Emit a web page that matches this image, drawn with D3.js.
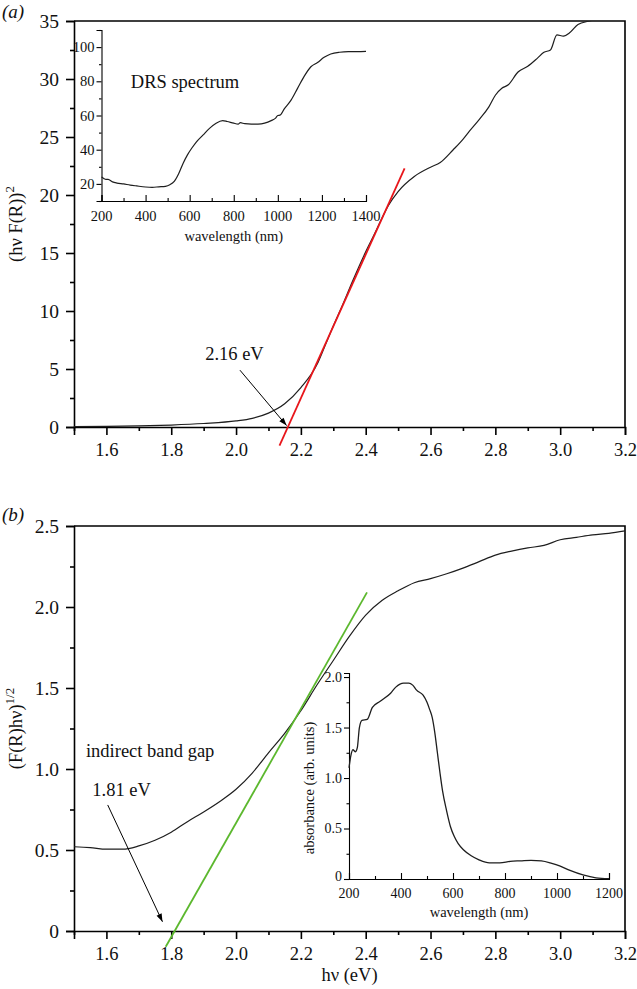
<!DOCTYPE html>
<html>
<head>
<meta charset="utf-8">
<script src="https://cdn.jsdelivr.net/npm/d3@7"></script>
<style>
  body { margin: 0; background: #fff; }
  svg, svg text { font-family: "Liberation Serif", "Times New Roman", "DejaVu Serif", serif; }
</style>
</head>
<body>
<div id="chart"></div>
<script>
// panel (a): (hv F(R))^2 vs photon energy
const hvA = [1.5, 1.6, 1.7, 1.8, 1.9, 2.0, 2.05, 2.1, 2.15, 2.2, 2.25, 2.27, 2.3, 2.33, 2.36, 2.4, 2.43, 2.45, 2.47, 2.5, 2.55, 2.6, 2.63, 2.67, 2.7, 2.72, 2.75, 2.78, 2.8, 2.82, 2.84, 2.87, 2.9, 2.93, 2.95, 2.97, 2.99, 3.01, 3.03, 3.055, 3.09, 3.12];
const fA = [0.03, 0.05, 0.09, 0.17, 0.3, 0.52, 0.75, 1.2, 2.0, 3.4, 5.4, 6.7, 8.7, 10.6, 12.6, 15.1, 16.8, 18.0, 19.1, 20.3, 21.6, 22.4, 22.8, 23.9, 24.8, 25.5, 26.5, 27.6, 28.6, 29.2, 29.5, 30.6, 31.1, 31.8, 32.3, 32.5, 33.8, 33.7, 34.0, 34.7, 35.0, 35.2];
const fitAx = [2.134, 2.52];
const fitAy = [-1.6, 22.3];

// inset (a): DRS spectrum
const wlA = [200, 210, 220, 230, 250, 270, 300, 330, 360, 400, 430, 460, 490, 510, 530, 550, 570, 590, 610, 630, 660, 690, 720, 750, 770, 800, 820, 830, 850, 880, 910, 940, 970, 990, 1000, 1010, 1030, 1060, 1090, 1120, 1150, 1180, 1210, 1240, 1280, 1320, 1360, 1400];
const drsA = [24, 23.2, 22.6, 22.7, 21.2, 20.5, 20.0, 19.3, 18.8, 18.2, 18.0, 18.3, 18.6, 19.5, 21.5, 26, 32, 37, 41, 44.5, 48.5, 52.5, 55.5, 57, 56.5, 55.5, 55, 55.8, 55.2, 55, 55, 55.5, 57, 58.5, 60, 60.2, 64, 69, 76, 83, 88.5, 91, 94, 96, 97, 97.3, 97.3, 97.5];

// panel (b): (F(R)hv)^1/2 vs photon energy
const hvB = [1.5, 1.55, 1.6, 1.65, 1.7, 1.75, 1.8, 1.85, 1.9, 1.95, 2.0, 2.05, 2.1, 2.15, 2.2, 2.25, 2.3, 2.35, 2.4, 2.45, 2.5, 2.55, 2.6, 2.65, 2.7, 2.75, 2.8, 2.85, 2.9, 2.95, 3.0, 3.05, 3.1, 3.15, 3.2];
const fB = [0.52, 0.515, 0.505, 0.505, 0.525, 0.56, 0.61, 0.675, 0.735, 0.80, 0.875, 0.975, 1.10, 1.22, 1.36, 1.52, 1.67, 1.82, 1.95, 2.04, 2.10, 2.15, 2.175, 2.205, 2.24, 2.28, 2.32, 2.345, 2.365, 2.38, 2.415, 2.43, 2.445, 2.455, 2.47];
const fitBx = [1.783, 2.404];
const fitBy = [-0.097, 2.09];

// inset (b): absorbance
const wlB = [200, 207, 215, 225, 232, 240, 250, 270, 290, 320, 360, 380, 410, 430, 445, 460, 485, 500, 510, 520, 530, 540, 550, 560, 575, 590, 605, 620, 640, 670, 700, 740, 780, 820, 860, 900, 940, 980, 1010, 1050, 1100, 1150, 1200];
const absB = [1.1, 1.22, 1.28, 1.26, 1.3, 1.5, 1.57, 1.58, 1.70, 1.76, 1.84, 1.90, 1.94, 1.94, 1.92, 1.87, 1.82, 1.75, 1.68, 1.60, 1.45, 1.25, 1.05, 0.87, 0.68, 0.52, 0.42, 0.35, 0.29, 0.23, 0.19, 0.16, 0.16, 0.175, 0.18, 0.185, 0.18, 0.155, 0.13, 0.085, 0.04, 0.012, 0.004];

const hvMajor = [1.6, 1.8, 2.0, 2.2, 2.4, 2.6, 2.8, 3.0, 3.2];
const hvMinor = [1.5, 1.7, 1.9, 2.1, 2.3, 2.5, 2.7, 2.9, 3.1];
const yAMajor = [0, 5, 10, 15, 20, 25, 30, 35];
const yAMinor = [2.5, 7.5, 12.5, 17.5, 22.5, 27.5, 32.5];
const yBMajor = [0, 0.5, 1.0, 1.5, 2.0, 2.5];
const yBMinor = [0.25, 0.75, 1.25, 1.75, 2.25];
const wlAMajor = [200, 400, 600, 800, 1000, 1200, 1400];
const wlAMinor = [300, 500, 700, 900, 1100, 1300];
const drsMajor = [20, 40, 60, 80, 100];
const drsMinor = [10, 30, 50, 70, 90, 110];
const wlBMajor = [200, 400, 600, 800, 1000, 1200];
const wlBMinor = [300, 500, 700, 900, 1100];
const absMajor = [0, 0.5, 1.0, 1.5, 2.0];
const absMinor = [0.25, 0.75, 1.25, 1.75];

const width = 637;
const height = 989;
const ink = "#1e1e1e";
const serif = "Liberation Serif, Times New Roman, DejaVu Serif, serif";

const svg = d3
  .select("#chart")
  .append("svg")
  .attr("width", width)
  .attr("height", height)
  .attr("font-family", serif);

const fmtZero = (f) => (d) => (d === 0 ? "0" : d3.format(f)(d));

// draws major + minor ticks for one side of an axis
const drawAxis = (g, axisFn, scale, major, minor, opts) => {
  const a = g
    .append("g")
    .attr("transform", opts.transform)
    .call(
      axisFn(scale)
        .tickValues(major)
        .tickSize(opts.size)
        .tickPadding(opts.pad)
        .tickFormat(opts.format)
    )
    .attr("font-family", serif)
    .attr("font-size", opts.font);
  a.select(".domain").attr("stroke", "#000").attr("stroke-width", opts.width);
  a.selectAll(".tick line").attr("stroke", "#000").attr("stroke-width", opts.width);
  a.selectAll(".tick text").attr("fill", "#111");

  const m = g
    .append("g")
    .attr("transform", opts.transform)
    .call(axisFn(scale).tickValues(minor).tickSize(opts.size / 2).tickFormat(""));
  m.select(".domain").remove();
  m.selectAll(".tick line").attr("stroke", "#000").attr("stroke-width", opts.width);
  return a;
};

svg
  .append("defs")
  .append("marker")
  .attr("id", "head")
  .attr("viewBox", "0 0 10 10")
  .attr("refX", 10)
  .attr("refY", 5)
  .attr("markerWidth", 10)
  .attr("markerHeight", 8)
  .attr("markerUnits", "userSpaceOnUse")
  .attr("orient", "auto")
  .append("path")
  .attr("d", "M0,1.5 L10,5 L0,8.5 Z")
  .attr("fill", "#000");

const xA = d3.scaleLinear().domain([1.5, 3.2]).range([74, 625]);
const yA = d3.scaleLinear().domain([0, 35]).range([427, 21]);
const xB = d3.scaleLinear().domain([1.5, 3.2]).range([74, 625]);
const yB = d3.scaleLinear().domain([0, 2.5]).range([931, 526]);

const drawPanel = (x, y, yMajor, yMinor, yFmt, clipId) => {
  const g = svg.append("g");
  const [x0, x1] = x.range();
  const [y0, y1] = y.range();
  g.append("clipPath")
    .attr("id", clipId)
    .append("rect")
    .attr("x", x0)
    .attr("y", y1)
    .attr("width", x1 - x0)
    .attr("height", y0 - y1);
  // frame top/right
  g.append("path")
    .attr("d", `M${x0},${y1}H${x1}V${y0}`)
    .attr("fill", "none")
    .attr("stroke", "#000")
    .attr("stroke-width", 1.6);
  drawAxis(g, d3.axisBottom, x, hvMajor, hvMinor, {
    transform: `translate(0,${y0})`,
    size: 8, pad: 8, width: 1.6, font: "18.5px", format: d3.format(".1f"),
  });
  drawAxis(g, d3.axisLeft, y, yMajor, yMinor, {
    transform: `translate(${x0},0)`,
    size: 8, pad: 7, width: 1.6, font: "19.5px", format: yFmt,
  });
  return g;
};

const label = (sel, x, y, size, txt) =>
  sel.append("text")
    .attr("x", x)
    .attr("y", y)
    .attr("text-anchor", "middle")
    .attr("font-family", serif)
    .attr("font-size", size)
    .attr("fill", "#111")
    .text(txt);

// ---------- panel (a)
const gA = drawPanel(xA, yA, yAMajor, yAMinor, d3.format("d"), "clipA");

gA.append("path")
  .datum(d3.zip(hvA, fA))
  .attr("clip-path", "url(#clipA)")
  .attr("fill", "none")
  .attr("stroke", ink)
  .attr("stroke-width", 1.2)
  .attr("d", d3.line().x((d) => xA(d[0])).y((d) => yA(d[1])).curve(d3.curveMonotoneX));

gA.append("path")
  .datum(d3.zip(fitAx, fitAy))
  .attr("fill", "none")
  .attr("stroke", "#e8161b")
  .attr("stroke-width", 1.8)
  .attr("d", d3.line().x((d) => xA(d[0])).y((d) => yA(d[1])));

gA.append("line")
  .attr("x1", xA(2.012)).attr("y1", yA(4.9))
  .attr("x2", xA(2.156)).attr("y2", yA(0.12))
  .attr("stroke", "#000")
  .attr("stroke-width", 1)
  .attr("marker-end", "url(#head)");

label(gA, xA(1.995), yA(5.75), "18.5px", "2.16 eV");

svg.append("text")
  .attr("transform", `translate(22,${(yA.range()[0] + yA.range()[1]) / 2}) rotate(-90)`)
  .attr("text-anchor", "middle")
  .attr("font-family", serif)
  .attr("font-size", "18.5px")
  .attr("fill", "#111")
  .call((t) => {
    t.append("tspan").text("(hν F(R))");
    t.append("tspan").attr("dy", -8).attr("font-size", "13px").text("2");
  });

svg.append("text")
  .attr("x", 2).attr("y", 18)
  .attr("font-family", serif)
  .attr("font-size", "19px")
  .attr("font-style", "italic")
  .attr("fill", "#111")
  .text("(a)");

// inset (a)
const xIa = d3.scaleLinear().domain([200, 1400]).range([101.5, 366]);
const yIa = d3.scaleLinear().domain([10, 110]).range([201, 30]);
const gIa = svg.append("g");
drawAxis(gIa, d3.axisTop, xIa, wlAMajor, wlAMinor, {
  transform: `translate(0,${yIa.range()[0]})`,
  size: 6, pad: 0, width: 1.1, font: "14.5px", format: "",
});
gIa.append("g")
  .attr("transform", `translate(0,${yIa.range()[0]})`)
  .selectAll("text")
  .data(wlAMajor)
  .join("text")
  .attr("x", (d) => xIa(d))
  .attr("y", 20)
  .attr("text-anchor", "middle")
  .attr("font-family", serif)
  .attr("font-size", "14.5px")
  .attr("fill", "#111")
  .text((d) => d);
drawAxis(gIa, d3.axisLeft, yIa, drsMajor, drsMinor, {
  transform: `translate(${xIa.range()[0]},0)`,
  size: 5, pad: 2, width: 1.1, font: "14.5px", format: d3.format("d"),
});
gIa.append("path")
  .datum(d3.zip(wlA, drsA))
  .attr("fill", "none")
  .attr("stroke", ink)
  .attr("stroke-width", 1.2)
  .attr("d", d3.line().x((d) => xIa(d[0])).y((d) => yIa(d[1])).curve(d3.curveMonotoneX));
label(gIa, (xIa.range()[0] + xIa.range()[1]) / 2, 241, "14.5px", "wavelength (nm)");
label(gIa, 185, yIa(76), "18.5px", "DRS spectrum");

// ---------- panel (b)
const gB = drawPanel(xB, yB, yBMajor, yBMinor, fmtZero(".1f"), "clipB");

gB.append("path")
  .datum(d3.zip(hvB, fB))
  .attr("clip-path", "url(#clipB)")
  .attr("fill", "none")
  .attr("stroke", ink)
  .attr("stroke-width", 1.2)
  .attr("d", d3.line().x((d) => xB(d[0])).y((d) => yB(d[1])).curve(d3.curveMonotoneX));

gB.append("path")
  .datum(d3.zip(fitBx, fitBy))
  .attr("fill", "none")
  .attr("stroke", "#5cb82e")
  .attr("stroke-width", 1.8)
  .attr("d", d3.line().x((d) => xB(d[0])).y((d) => yB(d[1])));

gB.append("line")
  .attr("x1", xB(1.604)).attr("y1", yB(0.778))
  .attr("x2", xB(1.773)).attr("y2", yB(0.057))
  .attr("stroke", "#000")
  .attr("stroke-width", 1)
  .attr("marker-end", "url(#head)");

label(gB, xB(1.735), yB(1.074), "18.5px", "indirect band gap");
label(gB, xB(1.647), yB(0.833), "18.5px", "1.81 eV");

svg.append("text")
  .attr("transform", `translate(22,${(yB.range()[0] + yB.range()[1]) / 2}) rotate(-90)`)
  .attr("text-anchor", "middle")
  .attr("font-family", serif)
  .attr("font-size", "18.5px")
  .attr("fill", "#111")
  .call((t) => {
    t.append("tspan").text("(F(R)hν)");
    t.append("tspan").attr("dy", -8).attr("font-size", "13px").text("1/2");
  });

label(svg, (xB.range()[0] + xB.range()[1]) / 2, 981, "18.5px", "hν (eV)");

svg.append("text")
  .attr("x", 2).attr("y", 521)
  .attr("font-family", serif)
  .attr("font-size", "19px")
  .attr("font-style", "italic")
  .attr("fill", "#111")
  .text("(b)");

// inset (b)
const xIb = d3.scaleLinear().domain([200, 1200]).range([349, 609]);
const yIb = d3.scaleLinear().domain([0, 2.04]).range([879, 673]);
const gIb = svg.append("g");
drawAxis(gIb, d3.axisTop, xIb, wlBMajor, wlBMinor, {
  transform: `translate(0,${yIb.range()[0]})`,
  size: 6, pad: 0, width: 1.1, font: "14px", format: "",
});
gIb.append("g")
  .attr("transform", `translate(0,${yIb.range()[0]})`)
  .selectAll("text")
  .data(wlBMajor)
  .join("text")
  .attr("x", (d) => xIb(d))
  .attr("y", 19)
  .attr("text-anchor", "middle")
  .attr("font-family", serif)
  .attr("font-size", "14px")
  .attr("fill", "#111")
  .text((d) => d);
const absAxis = drawAxis(gIb, d3.axisLeft, yIb, absMajor, absMinor, {
  transform: `translate(${xIb.range()[0]},0)`,
  size: 5, pad: 2, width: 1.1, font: "14px", format: fmtZero(".1f"),
});
// lift the "0" label a little so it clears the "200" below it
absAxis.selectAll(".tick text").filter((d) => d === 0).attr("dy", "0.1em");
gIb.append("path")
  .datum(d3.zip(wlB, absB))
  .attr("fill", "none")
  .attr("stroke", ink)
  .attr("stroke-width", 1.3)
  .attr("d", d3.line().x((d) => xIb(d[0])).y((d) => yIb(d[1])).curve(d3.curveMonotoneX));
label(gIb, (xIb.range()[0] + xIb.range()[1]) / 2, 917, "14.5px", "wavelength (nm)");
gIb.append("text")
  .attr("transform", `translate(314,788) rotate(-90)`)
  .attr("text-anchor", "middle")
  .attr("font-family", serif)
  .attr("font-size", "14.5px")
  .attr("fill", "#111")
  .text("absorbance (arb. units)");
</script>
</body>
</html>
